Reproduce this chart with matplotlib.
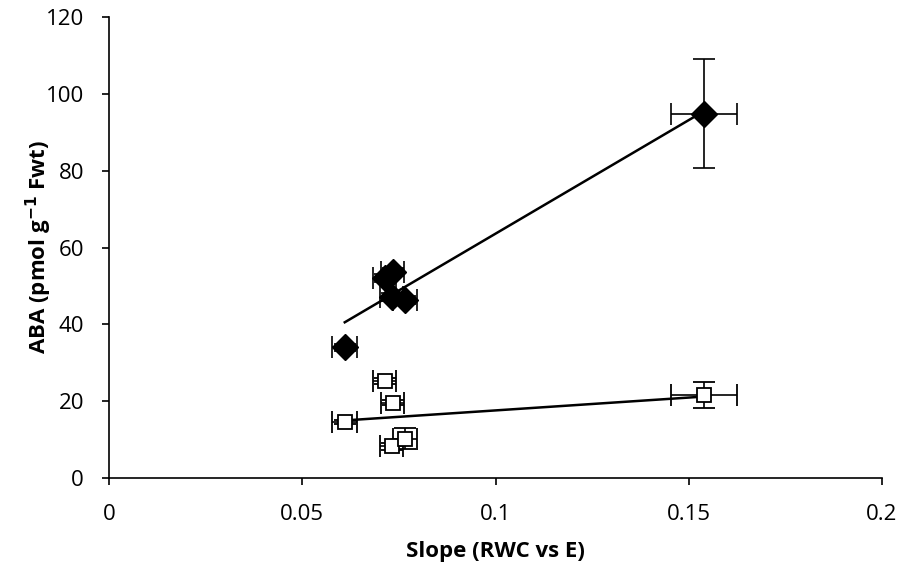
import matplotlib
matplotlib.use("Agg")
import matplotlib.pyplot as plt
import numpy as np

plt.rcParams['font.family'] = ['Open Sans', 'DejaVu Sans']

# slope values (x) shared by both series
slope = [0.0610, 0.0713, 0.0734, 0.0731, 0.0766, 0.1540]
slope_err = [0.0032, 0.0030, 0.0030, 0.0030, 0.0030, 0.0085]

# filled diamonds
aba_filled = [34.0, 52.0, 53.7, 47.2, 46.3, 94.8]
aba_filled_err = [1.0, 1.0, 1.0, 1.0, 1.0, 14.2]

# open squares
aba_open = [14.6, 25.3, 19.6, 8.2, 10.2, 21.6]
aba_open_err = [0.6, 0.8, 0.6, 1.0, 2.7, 3.3]

fig = plt.figure(figsize=(9.05, 5.72), dpi=100)
ax = fig.add_axes([109 / 905, 1 - 478 / 572, 773 / 905, 461 / 572])

ebkw = dict(ecolor="black", elinewidth=1.2, capsize=8, capthick=1.2, linestyle="none", zorder=3)

ax.errorbar(slope, aba_filled, xerr=slope_err, yerr=aba_filled_err,
            marker="D", markersize=13, markerfacecolor="black", markeredgecolor="black", **ebkw)
ax.errorbar(slope, aba_open, xerr=slope_err, yerr=aba_open_err,
            marker="s", markersize=9.5, markerfacecolor="white", markeredgecolor="black",
            markeredgewidth=1.3, **ebkw)

# linear trendlines
xs = np.array([min(slope), max(slope)])
for yv in (aba_filled, aba_open):
    m, b = np.polyfit(slope, yv, 1)
    ax.plot(xs, m * xs + b, color="black", linewidth=1.8, zorder=2)

ax.set_xlim(0, 0.2)
ax.set_ylim(0, 120)
ax.set_xticks([0, 0.05, 0.1, 0.15, 0.2])
ax.set_xticklabels(["0", "0.05", "0.1", "0.15", "0.2"])
ax.set_yticks(range(0, 121, 20))

for side in ("top", "right"):
    ax.spines[side].set_visible(False)
for side in ("left", "bottom"):
    ax.spines[side].set_linewidth(1.2)
ax.tick_params(axis="y", direction="out", length=5, width=1.2, labelsize=16, pad=13)
ax.tick_params(axis="x", direction="out", length=5, width=1.2, labelsize=16, pad=14)

ax.set_xlabel("Slope (RWC vs E)", fontsize=16, fontweight="bold", labelpad=11)
ax.set_ylabel("ABA (pmol g$^{\\mathbf{-1}}$ Fwt)", fontsize=16, fontweight="bold", labelpad=-6)

fig.savefig("out.png", dpi=100)
